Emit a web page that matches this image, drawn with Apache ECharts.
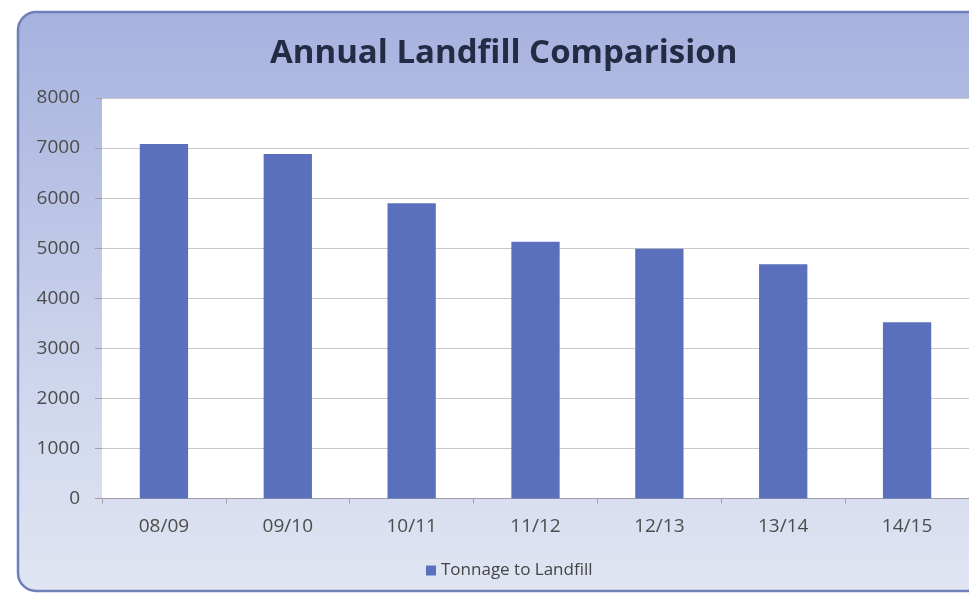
<!DOCTYPE html>
<html>
<head>
<meta charset="utf-8">
<script src="https://cdn.jsdelivr.net/npm/echarts@6/dist/echarts.min.js"></script>
<style>
  html, body { margin: 0; padding: 0; background: #ffffff; }
  #chart { width: 969px; height: 594px; }
</style>
</head>
<body>
<div id="chart"></div>
<script>
// Annual tonnage sent to landfill, by financial year
const years = ['08/09', '09/10', '10/11', '11/12', '12/13', '13/14', '14/15'];
const tonnage = [7080, 6880, 5900, 5130, 4990, 4680, 3520];
const yTicks = [0, 1000, 2000, 3000, 4000, 5000, 6000, 7000, 8000];
const seriesName = 'Tonnage to Landfill';
const chartTitle = 'Annual Landfill Comparision';

const chart = echarts.init(document.getElementById('chart'), null, { renderer: 'canvas' });

const option = {
  backgroundColor: '#ffffff',
  animation: false,
  graphic: [{
    type: 'rect',
    z: -10,
    shape: { x: 18, y: 12, width: 1000, height: 579, r: 18 },
    style: {
      fill: new echarts.graphic.LinearGradient(0, 0, 0, 1, [
        { offset: 0, color: '#a6b2df' },
        { offset: 0.25, color: '#b5bfe3' },
        { offset: 0.7, color: '#d2d9ee' },
        { offset: 1, color: '#e0e5f2' }
      ]),
      stroke: '#6f7fb8',
      lineWidth: 2.5
    }
  }],
  title: {
    text: chartTitle,
    left: 265,
    top: 32,
    textStyle: {
      fontFamily: 'Open Sans',
      fontWeight: 'bold',
      fontSize: 33,
      color: '#232b45'
    }
  },
  legend: {
    data: [seriesName],
    left: 421,
    top: 557,
    icon: 'rect',
    itemWidth: 10,
    itemHeight: 10,
    itemGap: 6,
    textStyle: { fontFamily: 'Open Sans', fontSize: 17, color: '#444444' }
  },
  grid: {
    left: 102,
    right: 0,
    top: 98,
    bottom: 95.5,
    show: true,
    backgroundColor: '#ffffff',
    borderWidth: 0
  },
  xAxis: {
    type: 'category',
    data: years,
    axisLine: { lineStyle: { color: '#a0a0a8', width: 1 } },
    axisTick: { show: true, alignWithLabel: false, length: 5, lineStyle: { color: '#a0a0a8' } },
    axisLabel: {
      margin: 19,
      fontFamily: 'Open Sans',
      fontSize: 19,
      color: '#4c4c4c'
    }
  },
  yAxis: {
    type: 'value',
    min: yTicks[0],
    max: yTicks[yTicks.length - 1],
    interval: yTicks[1] - yTicks[0],
    axisLine: { show: false },
    axisTick: { show: true, length: 7, lineStyle: { color: '#a0a0a8' } },
    splitLine: { lineStyle: { color: '#c8c8c8', width: 1 } },
    axisLabel: {
      margin: 22,
      fontFamily: 'Open Sans',
      fontSize: 19,
      color: '#4c4c4c',
      formatter: (v) => String(v)
    }
  },
  series: [{
    name: seriesName,
    type: 'bar',
    data: tonnage,
    barWidth: '39%',
    itemStyle: { color: '#5a70bd' }
  }]
};

chart.setOption(option);
</script>
</body>
</html>
